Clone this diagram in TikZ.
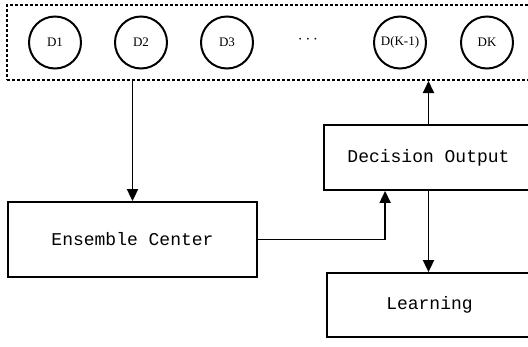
\documentclass[tikz,border=0pt]{standalone}
\usepackage{fontspec}
\setmainfont{Liberation Serif}
\setmonofont{Liberation Mono}
\usetikzlibrary{arrows.meta}
\begin{document}
\begin{tikzpicture}[x=1pt, y=-1pt,
  box/.style={draw=black, line width=1.8pt, rectangle, inner sep=0pt,
    font=\ttfamily\fontsize{18}{20}\selectfont},
  unit/.style={draw=black, line width=2pt, circle, minimum size=52pt, inner sep=0pt,
    font=\fontsize{13}{15}\selectfont},
  link/.style={black, line width=1.8pt, -{Triangle[length=12pt, width=11pt]}}]
  \useasboundingbox (0,0) rectangle (528,346);
  \clip (0,0) rectangle (528,346);
  \node[draw=black, line width=2pt, dash pattern=on 3pt off 2pt,
    minimum width=528pt, minimum height=75pt] (pool) at (271,42.5) {};
  \node[unit] (d1) at (55,42.5) {D1};
  \node[unit] (d2) at (141,42.5) {D2};
  \node[unit] (d3) at (227,42.5) {D3};
  \node[font=\fontsize{16}{18}\selectfont] (dots) at (308,40) {$\cdots$};
  \node[unit] (dk1) at (400,42.5) {D(K-1)};
  \node[unit] (dk) at (487,42.5) {DK};
  \node[box, minimum width=249pt, minimum height=75pt] (ens) at (132.5,239.5) {Ensemble Center};
  \node[box, minimum width=209pt, minimum height=65pt] (dec) at (428.5,157.5) {Decision Output};
  \node[box, minimum width=205pt, minimum height=64pt] (learn) at (429.5,305) {Learning};
  \draw[link] (pool.south -| ens.north) -- (ens.north);
  \draw[link] (dec.north) -- (dec.north |- pool.south);
  \draw[link] (ens.east) -| ([xshift=62pt]dec.south west);
  \draw[link] (dec.south) -- (dec.south |- learn.north);
\end{tikzpicture}
\end{document}
